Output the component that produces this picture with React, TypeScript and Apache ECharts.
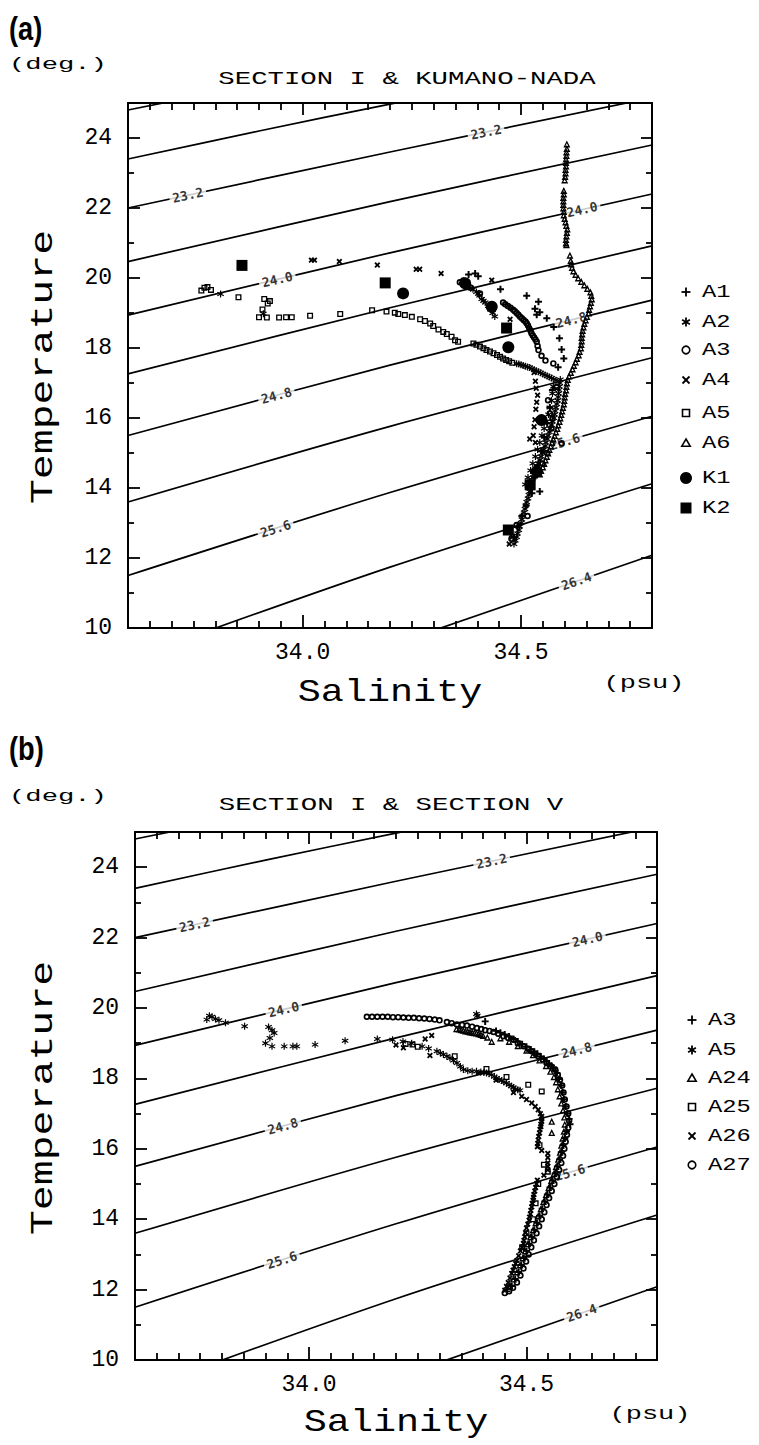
import React, { useEffect, useRef } from "react";
import * as echarts from "echarts";

const MONO = "'Liberation Mono', 'DejaVu Sans Mono', monospace";

// ---------- axes ----------
const salinityMin = 33.6;
const salinityMax = 34.8;
const temperatureMin = 10;
const temperatureMax = 25;
const salinityLabelTicks = [34.0, 34.5];
const salinityMinorTicks = [33.65, 33.7, 33.75, 33.8, 33.85, 33.9, 33.95, 34.05, 34.1, 34.15, 34.2, 34.25, 34.3, 34.35, 34.4, 34.45, 34.55, 34.6, 34.65, 34.7, 34.75];
const temperatureLabelTicks = [10, 12, 14, 16, 18, 20, 22, 24];
const temperatureMinorTicks = [11, 13, 15, 17, 19, 21, 23];

// ---------- isopycnals (sigma-t), points ----------
const isopycnalSigma = ["22.4", "22.8", "23.2", "23.6", "24.0", "24.4", "24.8", "25.2", "25.6", "26.0", "26.4"];
const isopycnalLines: number[][][] = [
  [[33.6, 24.8], [33.8, 25.3]],
  [[33.6, 23.4], [33.9, 24.2], [34.2, 24.97], [34.3, 25.22]],
  [[33.6, 22.0], [34.2, 23.6], [34.8, 25.15]],
  [[33.6, 20.47], [34.2, 22.18], [34.8, 23.8]],
  [[33.6, 18.94], [34.2, 20.72], [34.8, 22.4]],
  [[33.6, 17.26], [34.2, 19.15], [34.8, 20.92]],
  [[33.6, 15.5], [34.2, 17.51], [34.8, 19.37]],
  [[33.6, 13.6], [34.2, 15.76], [34.8, 17.72]],
  [[33.6, 11.5], [34.2, 13.87], [34.8, 16.05]],
  [[33.6, 9.1], [34.2, 11.74], [34.8, 14.12]],
  [[34.2, 9.5], [34.8, 12.08]],
];
const isopycnalLabelSigma = ["23.2", "23.2", "24.0", "24.0", "24.8", "24.8", "25.6", "25.6", "26.4"];
const isopycnalLabelSalinity = [33.737, 34.42, 33.942, 34.64, 33.94, 34.615, 33.938, 34.6, 34.627];

// ---------- panel (a): SECTION I & KUMANO-NADA ----------
const aA1 = [[34.38, 20.1], [34.395, 20.13], [34.402, 20.05], [34.453, 19.68], [34.513, 19.49], [34.54, 19.32], [34.532, 19.12], [34.543, 19.02], [34.536, 18.95], [34.559, 18.85], [34.575, 18.6], [34.588, 18.28], [34.593, 17.96], [34.598, 17.7], [34.585, 17.45], [34.572, 16.8], [34.566, 16.3], [34.56, 15.85], [34.553, 15.45], [34.546, 15.05], [34.538, 14.65], [34.531, 14.3], [34.543, 13.9], [34.525, 13.85], [34.512, 13.5], [34.502, 13.2], [34.492, 12.9], [34.484, 12.6]];
const aA2 = [[33.812, 19.54], [33.91, 18.98],
  [34.365, 19.9], [34.372, 19.82], [34.38, 19.75], [34.385, 19.71], [34.39, 19.68], [34.398, 19.6], [34.402, 19.55], [34.405, 19.5], [34.41, 19.4], [34.414, 19.35], [34.418, 19.3], [34.425, 19.2], [34.43, 19.1], [34.435, 19.0], [34.44, 18.9],
  [34.49, 17.55], [34.495, 17.54], [34.5, 17.52], [34.505, 17.5], [34.51, 17.48], [34.515, 17.46], [34.52, 17.44], [34.525, 17.41], [34.53, 17.38], [34.535, 17.35], [34.54, 17.32], [34.545, 17.29], [34.55, 17.26], [34.555, 17.23], [34.56, 17.2], [34.565, 17.17], [34.57, 17.14], [34.575, 17.11], [34.58, 17.08],
  [34.59, 17.1], [34.589, 17.0], [34.588, 16.9], [34.587, 16.8], [34.586, 16.7], [34.585, 16.6], [34.584, 16.5], [34.582, 16.4], [34.58, 16.3], [34.578, 16.2], [34.577, 16.1], [34.575, 16.0], [34.572, 15.9], [34.57, 15.8], [34.567, 15.7], [34.565, 15.6], [34.562, 15.5], [34.56, 15.4], [34.557, 15.3], [34.555, 15.2], [34.552, 15.1], [34.549, 15.0], [34.546, 14.9], [34.543, 14.8], [34.54, 14.7], [34.538, 14.6], [34.535, 14.5], [34.531, 14.4], [34.528, 14.3], [34.525, 14.2], [34.523, 14.1], [34.522, 14.0], [34.52, 13.9], [34.518, 13.8], [34.516, 13.7], [34.513, 13.6], [34.511, 13.5], [34.509, 13.4], [34.507, 13.3], [34.504, 13.2], [34.502, 13.1], [34.5, 13.0], [34.497, 12.9], [34.495, 12.8], [34.492, 12.7], [34.49, 12.6], [34.487, 12.5], [34.484, 12.4],
  [34.574, 16.9], [34.572, 16.7], [34.57, 16.5], [34.566, 16.3], [34.563, 16.1], [34.558, 15.9], [34.553, 15.7], [34.548, 15.5], [34.543, 15.3], [34.538, 15.1], [34.533, 14.9], [34.527, 14.7], [34.522, 14.5], [34.516, 14.3], [34.51, 14.1]];
const aA3 = [[34.36, 19.88], [34.368, 19.93], [34.376, 19.8], [34.385, 19.72], [34.406, 19.56], [34.459, 19.3], [34.464, 19.25], [34.47, 19.2], [34.476, 19.15], [34.482, 19.09], [34.486, 19.05], [34.49, 19.0], [34.494, 18.95], [34.498, 18.89], [34.502, 18.85], [34.506, 18.8], [34.51, 18.76], [34.513, 18.71], [34.516, 18.64], [34.519, 18.56], [34.522, 18.49], [34.524, 18.42], [34.527, 18.36], [34.53, 18.3], [34.533, 18.24], [34.536, 18.18], [34.538, 18.06], [34.54, 17.94], [34.547, 17.78], [34.556, 17.64], [34.574, 17.56], [34.582, 16.89], [34.562, 16.51], [34.566, 16.13], [34.572, 15.98], [34.57, 15.7], [34.593, 15.28], [34.56, 15.0], [34.549, 14.7], [34.515, 13.2], [34.49, 12.94], [34.478, 12.55]];
const aA4 = [[34.02, 20.51], [34.027, 20.51], [34.084, 20.47], [34.171, 20.37], [34.26, 20.25], [34.268, 20.25], [34.317, 20.13], [34.433, 19.94], [34.475, 18.82], [34.53, 17.3], [34.533, 17.05], [34.535, 16.85], [34.538, 16.65], [34.536, 16.45], [34.534, 16.25], [34.532, 15.95], [34.53, 15.75], [34.528, 15.5], [34.533, 15.3], [34.52, 15.4], [34.48, 12.6], [34.473, 12.4]];
const aA5 = [[33.768, 19.64], [33.775, 19.72], [33.782, 19.74], [33.79, 19.66], [33.853, 19.45], [33.912, 19.4], [33.925, 19.34], [33.92, 19.27], [33.908, 19.1], [33.9, 18.88], [33.918, 18.87], [33.946, 18.87], [33.962, 18.88], [33.975, 18.88], [34.017, 18.92], [34.086, 18.97], [34.159, 19.08], [34.192, 19.04], [34.211, 19.01], [34.219, 18.97], [34.234, 18.94], [34.25, 18.89], [34.269, 18.82], [34.28, 18.77], [34.292, 18.7], [34.299, 18.63], [34.311, 18.53], [34.322, 18.46], [34.33, 18.4], [34.341, 18.32], [34.349, 18.22], [34.356, 18.18], [34.391, 18.13], [34.398, 18.09], [34.406, 18.04], [34.414, 17.99], [34.421, 17.94], [34.429, 17.9], [34.437, 17.85], [34.445, 17.8], [34.452, 17.75], [34.459, 17.7], [34.466, 17.66], [34.473, 17.62], [34.48, 17.58]];
const aA6 = [[34.605, 23.83], [34.605, 23.7], [34.604, 23.6], [34.604, 23.5], [34.603, 23.4], [34.603, 23.3], [34.603, 23.2], [34.602, 23.1], [34.602, 23.0], [34.601, 22.9], [34.6, 22.8], [34.598, 22.5], [34.598, 22.4], [34.597, 22.3], [34.597, 22.2], [34.597, 22.1], [34.597, 22.0], [34.598, 21.9], [34.598, 21.8], [34.6, 21.7], [34.602, 21.6], [34.604, 21.5], [34.606, 21.4], [34.605, 21.3], [34.604, 21.2], [34.603, 21.1], [34.603, 21.0], [34.604, 20.95], [34.612, 20.65], [34.614, 20.5], [34.615, 20.4], [34.617, 20.3], [34.62, 20.2], [34.625, 20.1], [34.631, 20.0], [34.638, 19.9], [34.645, 19.8], [34.652, 19.7], [34.659, 19.6], [34.661, 19.5], [34.662, 19.4], [34.66, 19.3], [34.658, 19.2], [34.656, 19.1], [34.655, 19.0], [34.651, 18.9], [34.648, 18.8], [34.645, 18.7], [34.643, 18.6], [34.641, 18.5], [34.64, 18.4], [34.639, 18.3], [34.639, 18.2], [34.638, 18.1], [34.637, 18.0], [34.634, 17.9], [34.632, 17.8], [34.628, 17.7], [34.625, 17.6], [34.621, 17.5], [34.618, 17.4], [34.614, 17.3], [34.61, 17.2], [34.607, 17.1], [34.605, 17.0], [34.604, 16.9], [34.603, 16.8], [34.601, 16.7], [34.6, 16.6], [34.599, 16.5], [34.598, 16.4], [34.596, 16.3], [34.594, 16.2], [34.592, 16.1], [34.59, 16.0], [34.588, 15.9], [34.585, 15.8], [34.583, 15.7], [34.58, 15.6], [34.577, 15.5], [34.574, 15.4], [34.571, 15.3], [34.568, 15.2], [34.565, 15.1], [34.562, 15.0], [34.559, 14.9], [34.556, 14.8], [34.553, 14.7], [34.55, 14.6], [34.546, 14.5], [34.543, 14.4]];
const aK1 = [[34.23, 19.56], [34.372, 19.85], [34.433, 19.18], [34.471, 18.02], [34.547, 15.94], [34.536, 14.47]];
const aK2 = [[33.861, 20.36], [34.189, 19.86], [34.467, 18.57], [34.521, 14.09], [34.471, 12.8]];

// ---------- panel (b): SECTION I & SECTION V ----------
const bA3 = [[34.405, 19.62], [34.43, 19.35], [34.44, 19.3], [34.45, 19.25], [34.46, 19.19], [34.47, 19.12], [34.48, 19.05], [34.49, 18.97], [34.5, 18.9], [34.51, 18.82], [34.518, 18.76], [34.525, 18.7], [34.533, 18.62], [34.54, 18.55], [34.546, 18.48], [34.552, 18.42], [34.557, 18.36], [34.562, 18.3], [34.566, 18.22], [34.57, 18.15], [34.575, 17.98], [34.58, 17.8], [34.583, 17.6], [34.586, 17.4], [34.59, 17.2], [34.594, 17.0], [34.598, 16.85], [34.6, 16.7], [34.592, 16.5], [34.588, 16.3], [34.584, 16.1], [34.58, 15.9], [34.576, 15.7], [34.571, 15.5], [34.566, 15.3], [34.56, 15.1], [34.554, 14.9], [34.548, 14.7], [34.542, 14.5], [34.536, 14.3], [34.53, 14.1], [34.524, 13.9], [34.518, 13.7], [34.512, 13.5], [34.506, 13.3], [34.5, 13.1], [34.494, 12.9], [34.488, 12.7], [34.482, 12.5], [34.474, 12.3], [34.466, 12.1], [34.455, 11.95]];
const bA5 = [[33.765, 19.67], [33.771, 19.78], [33.777, 19.75], [33.785, 19.69], [33.793, 19.65], [33.808, 19.58], [33.852, 19.48], [33.907, 19.46], [33.915, 19.37], [33.92, 19.29], [33.91, 19.15], [33.9, 19.0], [33.915, 18.91], [33.943, 18.91], [33.963, 18.91], [33.972, 18.91], [34.014, 18.96], [34.083, 19.07], [34.157, 19.12], [34.192, 19.1], [34.216, 19.05], [34.236, 19.0], [34.26, 18.91], [34.275, 18.85], [34.294, 18.77], [34.302, 18.72], [34.309, 18.68], [34.317, 18.63], [34.324, 18.58], [34.332, 18.51], [34.34, 18.44], [34.348, 18.34], [34.355, 18.25], [34.365, 18.22], [34.375, 18.2], [34.385, 18.2], [34.395, 18.18], [34.402, 18.17], [34.408, 18.15], [34.414, 18.13], [34.42, 18.1], [34.426, 18.05], [34.431, 18.01], [34.437, 17.97], [34.443, 17.94], [34.448, 17.9], [34.454, 17.87], [34.46, 17.82], [34.465, 17.78], [34.47, 17.74], [34.474, 17.7], [34.48, 17.68], [34.485, 17.66], [34.385, 19.83], [34.387, 19.78]];
const bA24 = [[34.339, 19.41], [34.345, 19.4], [34.35, 19.38], [34.355, 19.37], [34.36, 19.35], [34.365, 19.34], [34.37, 19.32], [34.375, 19.31], [34.38, 19.3], [34.385, 19.29], [34.39, 19.27], [34.395, 19.25], [34.4, 19.22], [34.41, 19.17], [34.42, 19.05], [34.44, 19.15], [34.46, 19.05], [34.48, 18.93], [34.5, 18.8], [34.515, 18.67], [34.53, 18.52], [34.545, 18.36], [34.555, 18.2], [34.563, 18.05], [34.568, 17.9], [34.572, 17.7], [34.576, 17.5], [34.58, 17.3], [34.584, 17.1], [34.587, 16.9], [34.588, 16.7], [34.586, 16.5], [34.583, 16.3], [34.58, 16.1], [34.577, 15.9], [34.573, 15.7], [34.568, 15.5], [34.563, 15.3], [34.557, 15.1], [34.551, 14.9], [34.545, 14.7], [34.539, 14.5], [34.533, 14.3], [34.527, 14.1], [34.521, 13.9], [34.515, 13.7], [34.509, 13.5], [34.503, 13.3], [34.497, 13.1], [34.491, 12.9], [34.485, 12.7], [34.478, 12.5], [34.47, 12.3], [34.462, 12.12], [34.558, 16.78], [34.558, 16.46]];
const bA25 = [[34.222, 18.98], [34.238, 18.96], [34.25, 18.9], [34.335, 18.63], [34.408, 18.27], [34.454, 18.04], [34.504, 17.82], [34.535, 17.63], [34.549, 15.35], [34.54, 15.55], [34.521, 14.45], [34.515, 14.0], [34.5, 13.6], [34.53, 16.1], [34.527, 15.0], [34.49, 13.2]];
const bA26 = [[34.2, 18.95], [34.217, 18.87], [34.267, 19.12], [34.282, 19.22], [34.278, 18.65], [34.39, 18.16], [34.43, 17.95], [34.47, 17.6], [34.489, 17.49], [34.5, 17.4], [34.512, 17.3], [34.52, 17.2], [34.527, 17.11], [34.532, 17.0], [34.535, 16.92], [34.535, 16.85], [34.535, 16.78], [34.533, 16.7], [34.533, 16.63], [34.531, 16.55], [34.53, 16.45], [34.528, 16.35], [34.527, 16.25], [34.526, 16.15], [34.525, 16.06], [34.535, 15.95], [34.549, 15.87], [34.549, 15.75], [34.549, 15.6], [34.549, 15.5], [34.549, 15.4], [34.54, 15.25], [34.525, 15.11], [34.523, 15.0], [34.521, 14.9], [34.519, 14.8], [34.517, 14.7], [34.516, 14.62], [34.515, 14.54], [34.513, 14.45], [34.512, 14.35], [34.51, 14.25], [34.509, 14.15], [34.507, 14.06], [34.506, 13.97], [34.503, 13.86], [34.5, 13.75], [34.498, 13.62], [34.496, 13.5], [34.494, 13.4], [34.493, 13.31], [34.49, 13.2], [34.486, 13.1], [34.482, 12.96], [34.478, 12.83], [34.475, 12.74], [34.472, 12.65], [34.469, 12.55], [34.466, 12.46], [34.462, 12.33], [34.458, 12.2], [34.454, 12.09], [34.45, 11.98]];
const bA27 = [[34.133, 19.75], [34.145, 19.75], [34.157, 19.75], [34.169, 19.75], [34.181, 19.75], [34.193, 19.74], [34.205, 19.74], [34.217, 19.73], [34.229, 19.72], [34.241, 19.72], [34.253, 19.71], [34.265, 19.7], [34.277, 19.69], [34.289, 19.67], [34.3, 19.65], [34.317, 19.6], [34.328, 19.57], [34.34, 19.53], [34.352, 19.52], [34.363, 19.5], [34.375, 19.47], [34.386, 19.43], [34.396, 19.4], [34.405, 19.37], [34.415, 19.35], [34.424, 19.32], [34.435, 19.27], [34.447, 19.2], [34.458, 19.15], [34.47, 19.1], [34.48, 19.0], [34.493, 18.91], [34.503, 18.84], [34.512, 18.77], [34.52, 18.7], [34.527, 18.63], [34.537, 18.54], [34.546, 18.44], [34.556, 18.34], [34.566, 18.25], [34.572, 18.1], [34.577, 17.96], [34.582, 17.8], [34.585, 17.6], [34.588, 17.4], [34.592, 17.2], [34.596, 17.0], [34.598, 16.8], [34.596, 16.6], [34.593, 16.4], [34.59, 16.2], [34.587, 16.0], [34.584, 15.8], [34.58, 15.6], [34.575, 15.4], [34.57, 15.2], [34.564, 15.0], [34.558, 14.8], [34.552, 14.6], [34.546, 14.4], [34.541, 14.2], [34.535, 14.0], [34.529, 13.8], [34.523, 13.6], [34.517, 13.4], [34.511, 13.2], [34.505, 13.0], [34.499, 12.8], [34.493, 12.6], [34.486, 12.4], [34.478, 12.2], [34.469, 12.05], [34.46, 11.95], [34.45, 11.9]];

const legendNamesA = ["A1", "A2", "A3", "A4", "A5", "A6", "K1", "K2"];
const legendNamesB = ["A3", "A5", "A24", "A25", "A26", "A27"];

// ---------- marker shapes (outline shapes have see-through centres, like pen-plotted marks) ----------
const PLUS = "path://M3.6,0H6.4V3.6H10V6.4H6.4V10H3.6V6.4H0V3.6H3.6Z";
const ASTER = "path://M4.2,0H5.8V3.62L8.93,1.81L9.73,3.19L6.6,5L9.73,6.81L8.93,8.19L5.8,6.38V10H4.2V6.38L1.07,8.19L0.27,6.81L3.4,5L0.27,3.19L1.07,1.81L4.2,3.62Z";
const RING = "path://M5,0A5,5,0,1,1,5,10A5,5,0,1,1,5,0ZM5,2.6A2.4,2.4,0,1,0,5,7.4A2.4,2.4,0,1,0,5,2.6Z";
const BOX = "path://M0,0H10V10H0ZM2.2,2.2V7.8H7.8V2.2Z";
const TRI = "path://M5,0L10,9L0,9ZM5,3.7L3.05,7.21L6.95,7.21Z";

type Kind = "plus" | "aster" | "circle" | "cross" | "square" | "triangle" | "dot" | "block";
const kindsA: Kind[] = ["plus", "aster", "circle", "cross", "square", "triangle", "dot", "block"];
const kindsB: Kind[] = ["plus", "aster", "triangle", "square", "cross", "circle"];

function symbolFor(kind: Kind) {
  switch (kind) {
    case "plus": return { symbol: PLUS, symbolSize: 7, rotate: 0 };
    case "aster": return { symbol: ASTER, symbolSize: 7, rotate: 0 };
    case "cross": return { symbol: PLUS, symbolSize: 6.5, rotate: 45 };
    case "circle": return { symbol: RING, symbolSize: 6.5, rotate: 0 };
    case "square": return { symbol: BOX, symbolSize: 6, rotate: 0 };
    case "triangle": return { symbol: TRI, symbolSize: 7, rotate: 0 };
    case "dot": return { symbol: "circle", symbolSize: 12, rotate: 0 };
    default: return { symbol: "rect", symbolSize: 11, rotate: 0 };
  }
}

function interpT(line: number[][], s: number) {
  for (let i = 0; i < line.length - 1; i++) {
    const [s0, t0] = line[i];
    const [s1, t1] = line[i + 1];
    if (s >= s0 && s <= s1) {
      const slope = (t1 - t0) / (s1 - s0);
      return { t: t0 + slope * (s - s0), slope };
    }
  }
  const n = line.length;
  const slope = (line[n - 1][1] - line[n - 2][1]) / (line[n - 1][0] - line[n - 2][0]);
  return { t: line[n - 1][1] + slope * (s - line[n - 1][0]), slope };
}

const grids = [
  { left: 128, top: 103, width: 524, height: 525 },
  { left: 135, top: 832, width: 522, height: 528 },
];

function xAxisDef(g: number, position: string, ticks: number[], len: number, line: boolean, labels: boolean) {
  return {
    type: "value", gridIndex: g, min: salinityMin, max: salinityMax, position,
    axisLine: { show: line, onZero: false, lineStyle: { color: "#000", width: 2 } },
    axisTick: { show: true, inside: true, length: len, customValues: ticks, lineStyle: { color: "#000", width: 1.8 } },
    axisLabel: labels
      ? { show: true, customValues: salinityLabelTicks, formatter: (v: number) => v.toFixed(1), fontFamily: MONO, fontSize: 23, color: "#000", margin: 13 }
      : { show: false },
    splitLine: { show: false },
  };
}
function yAxisDef(g: number, position: string, ticks: number[], len: number, line: boolean, labels: boolean) {
  return {
    type: "value", gridIndex: g, min: temperatureMin, max: temperatureMax, position,
    axisLine: { show: line, onZero: false, lineStyle: { color: "#000", width: 2 } },
    axisTick: { show: true, inside: true, length: len, customValues: ticks, lineStyle: { color: "#000", width: 1.8 } },
    axisLabel: labels
      ? { show: true, customValues: temperatureLabelTicks, fontFamily: MONO, fontSize: 23, color: "#000", margin: 16 }
      : { show: false },
    splitLine: { show: false },
  };
}

function panelSeries(g: number, datasets: number[][][], kinds: Kind[]) {
  const xi = g * 4;
  const yi = g * 4;
  const grid = grids[g];
  const pxS = grid.width / (salinityMax - salinityMin);
  const pxT = grid.height / (temperatureMax - temperatureMin);
  const out: any[] = [];
  isopycnalLines.forEach((pts) => {
    out.push({
      type: "line", xAxisIndex: xi, yAxisIndex: yi, data: pts, symbol: "none", showSymbol: false,
      smooth: 0.3, clip: true, silent: true, z: 1,
      lineStyle: { color: "#000", width: 1.7 },
    });
  });
  out.push({
    type: "scatter", xAxisIndex: xi, yAxisIndex: yi, z: 2, silent: true, symbolSize: 1,
    itemStyle: { color: "rgba(0,0,0,0)" },
    label: {
      show: true, position: "inside", formatter: "{b}", fontFamily: "'DejaVu Sans Mono', monospace", fontWeight: "bold",
      fontSize: 13, color: "#000", backgroundColor: "#fff", padding: [1, 3],
    },
    data: isopycnalLabelSigma.map((sig, i) => {
      const line = isopycnalLines[isopycnalSigma.indexOf(sig)];
      const s = isopycnalLabelSalinity[i];
      const { t, slope } = interpT(line, s);
      const angle = (Math.atan((slope * pxT) / pxS) * 180) / Math.PI;
      return { name: sig, value: [s, t], label: { rotate: angle } };
    }),
  });
  datasets.forEach((data, i) => {
    const k = kinds[i];
    const sym = symbolFor(k);
    out.push({
      type: "scatter", xAxisIndex: xi, yAxisIndex: yi, data, silent: true,
      symbol: sym.symbol, symbolSize: sym.symbolSize, symbolRotate: sym.rotate,
      z: k === "dot" || k === "block" ? 6 : 3 + i * 0.01,
      itemStyle: { color: "#000", borderWidth: 0, opacity: 1 },
    });
  });
  return out;
}

function txt(text: string, x: number, y: number, size: number, scaleX: number, align: string, extra: any = {}, family = MONO, weight = "normal") {
  return {
    type: "text", x, y, scaleX, ...extra,
    style: {
      text, fontFamily: family, fontSize: size, fontWeight: weight, fill: "#000",
      textAlign: align, textVerticalAlign: "middle", align, verticalAlign: "middle",
    },
  };
}

function legendGraphics(names: string[], kinds: Kind[], sx: number, tx: number, ys: number[]) {
  const els: any[] = [];
  names.forEach((name, i) => {
    const cy = ys[i];
    const k = kinds[i];
    const st = { stroke: "#000", lineWidth: 1.8, fill: "none" };
    if (k === "plus") {
      els.push({ type: "line", shape: { x1: sx - 4.5, y1: cy, x2: sx + 4.5, y2: cy }, style: st });
      els.push({ type: "line", shape: { x1: sx, y1: cy - 4.5, x2: sx, y2: cy + 4.5 }, style: st });
    } else if (k === "cross") {
      els.push({ type: "line", shape: { x1: sx - 3.5, y1: cy - 3.5, x2: sx + 3.5, y2: cy + 3.5 }, style: st });
      els.push({ type: "line", shape: { x1: sx - 3.5, y1: cy + 3.5, x2: sx + 3.5, y2: cy - 3.5 }, style: st });
    } else if (k === "aster") {
      els.push({ type: "line", shape: { x1: sx, y1: cy - 4.5, x2: sx, y2: cy + 4.5 }, style: st });
      els.push({ type: "line", shape: { x1: sx - 3.9, y1: cy - 2.25, x2: sx + 3.9, y2: cy + 2.25 }, style: st });
      els.push({ type: "line", shape: { x1: sx - 3.9, y1: cy + 2.25, x2: sx + 3.9, y2: cy - 2.25 }, style: st });
    } else if (k === "circle") {
      els.push({ type: "circle", shape: { cx: sx, cy, r: 3.8 }, style: { ...st, lineWidth: 1.6 } });
    } else if (k === "square") {
      els.push({ type: "rect", shape: { x: sx - 3.5, y: cy - 3.5, width: 7, height: 7 }, style: { ...st, lineWidth: 1.6 } });
    } else if (k === "triangle") {
      els.push({ type: "polygon", shape: { points: [[sx, cy - 4], [sx + 4.2, cy + 3.2], [sx - 4.2, cy + 3.2]] }, style: { ...st, lineWidth: 1.6 } });
    } else if (k === "dot") {
      els.push({ type: "circle", shape: { cx: sx, cy, r: 6 }, style: { fill: "#000" } });
    } else {
      els.push({ type: "rect", shape: { x: sx - 5.5, y: cy - 5.5, width: 11, height: 11 }, style: { fill: "#000" } });
    }
    els.push(txt(name, tx, cy, 19, 1.25, "left"));
  });
  return els;
}

function buildOption() {
  const xAxis: any[] = [];
  const yAxis: any[] = [];
  [0, 1].forEach((g) => {
    xAxis.push(xAxisDef(g, "bottom", salinityLabelTicks, 13, true, true));
    xAxis.push(xAxisDef(g, "bottom", salinityMinorTicks, 7, false, false));
    xAxis.push(xAxisDef(g, "top", salinityLabelTicks, 12, true, false));
    xAxis.push(xAxisDef(g, "top", salinityMinorTicks, 7, false, false));
    yAxis.push(yAxisDef(g, "left", temperatureLabelTicks, 12, true, true));
    yAxis.push(yAxisDef(g, "left", temperatureMinorTicks, 6, false, false));
    yAxis.push(yAxisDef(g, "right", temperatureLabelTicks, 11, true, false));
    yAxis.push(yAxisDef(g, "right", temperatureMinorTicks, 6, false, false));
  });

  const series = [
    ...panelSeries(0, [aA1, aA2, aA3, aA4, aA5, aA6, aK1, aK2], kindsA),
    ...panelSeries(1, [bA3, bA5, bA24, bA25, bA26, bA27], kindsB),
  ];

  const graphic: any[] = [
    txt("(a)", 9, 28, 34, 0.8, "left", {}, "'Liberation Sans', Arial, sans-serif", "bold"),
    txt("(deg.)", 9, 65, 17, 1.6, "left"),
    txt("SECTION I & KUMANO-NADA", 407, 79, 18, 1.52, "center"),
    txt("Temperature", 44, 367, 31, 1.34, "center", { rotation: Math.PI / 2 }),
    txt("Salinity", 390, 693, 31, 1.24, "center"),
    txt("(psu)", 644, 683, 18, 1.5, "center"),
    ...legendGraphics(legendNamesA, kindsA, 686, 702, [292, 322, 350, 380, 413, 443, 478, 508]),
    txt("(b)", 9, 748, 34, 0.8, "left", {}, "'Liberation Sans', Arial, sans-serif", "bold"),
    txt("(deg.)", 9, 797, 17, 1.6, "left"),
    txt("SECTION I & SECTION V", 391, 805, 18, 1.52, "center"),
    txt("Temperature", 44, 1098, 31, 1.34, "center", { rotation: Math.PI / 2 }),
    txt("Salinity", 396, 1423, 31, 1.24, "center"),
    txt("(psu)", 650, 1414, 18, 1.5, "center"),
    ...legendGraphics(legendNamesB, kindsB, 692, 708, [1020, 1050, 1078, 1107, 1136, 1165]),
  ];

  return {
    animation: false,
    backgroundColor: "#fff",
    grid: grids.map((g) => ({ ...g, containLabel: false })),
    xAxis,
    yAxis,
    series,
    graphic,
  };
}

export default function App() {
  const ref = useRef<HTMLDivElement>(null);
  useEffect(() => {
    if (!ref.current) return;
    const chart = echarts.init(ref.current, null, { renderer: "svg" });
    chart.setOption(buildOption() as any);
    return () => chart.dispose();
  }, []);
  return (
    <div
      ref={ref}
      style={{ position: "absolute", left: 0, top: 0, width: 759, height: 1445, background: "#fff" }}
    />
  );
}
